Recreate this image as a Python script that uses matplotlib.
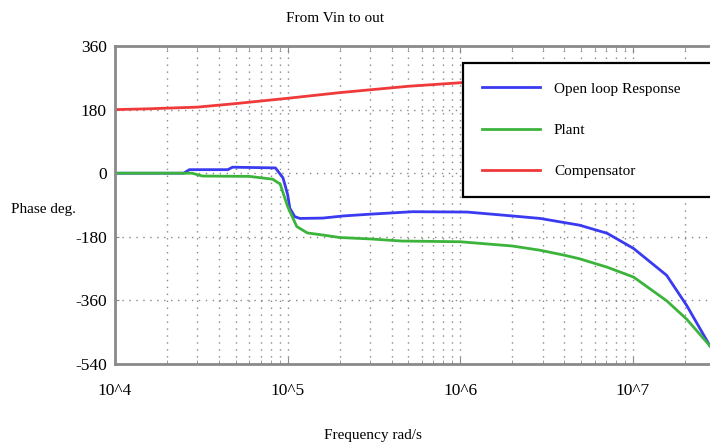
import numpy as np
import matplotlib
matplotlib.use("Agg")
import matplotlib.pyplot as plt
from matplotlib.ticker import FixedLocator, LogLocator, NullFormatter

plt.rcParams['font.family'] = ['Liberation Serif', 'DejaVu Serif']

# (rad/s, degrees)
f_open = [1e4, 2.5e4, 2.7e4, 4.5e4, 4.8e4, 8.5e4, 9.4e4, 1e5, 1.03e5, 1.1e5,
          1.18e5, 1.6e5, 2.1e5, 3e5, 5.3e5, 1.1e6, 1.9e6, 2.9e6, 4.9e6,
          7.1e6, 1.01e7, 1.57e7, 2.05e7, 2.8e7]
ph_open = [0, 0, 10, 10, 17, 15, -13, -60, -99, -123,
           -128, -127, -121, -116, -109, -110, -120, -128, -147,
           -170, -213, -289, -374, -489]

f_plant = [1e4, 2.8e4, 3.2e4, 6e4, 8.2e4, 9.06e4, 1e5, 1.13e5, 1.3e5, 1.6e5,
           2e5, 3e5, 4.6e5, 1e6, 2e6, 2.9e6, 4e6, 4.9e6, 7.1e6, 1.01e7,
           1.57e7, 2.05e7, 2.8e7]
ph_plant = [0, 0, -8, -9, -17, -31, -94, -151, -169, -175,
            -182, -186, -192, -194, -206, -218, -232, -242, -266, -294,
            -361, -413, -489]

f_comp = [1e4, 1.5e4, 3e4, 5e4, 1e5, 2e5, 3e5, 5e5, 1e6, 1.1e6]
ph_comp = [180, 182, 187, 197, 212, 228, 236, 246, 256, 258]

y_ticks = [360, 180, 0, -180, -360, -540]
x_ticks = [1e4, 1e5, 1e6, 1e7]
x_labels = ['10^4', '10^5', '10^6', '10^7']

fig = plt.figure(figsize=(7.1, 4.46), dpi=100)
ax = fig.add_axes([115 / 710, 82 / 446, 1 - 115 / 710, 318 / 446])

ax.semilogx(f_open, ph_open, color='#3a3af0', lw=2.0, label='Open loop Response')
ax.semilogx(f_plant, ph_plant, color='#3cb43c', lw=2.0, label='Plant')
ax.semilogx(f_comp, ph_comp, color='#f03a3a', lw=2.0, label='Compensator')

ax.set_xlim(1e4, 2.8e7)
ax.set_ylim(-540, 360)
ax.yaxis.set_major_locator(FixedLocator(y_ticks))
ax.set_yticklabels([str(v) for v in y_ticks])
ax.xaxis.set_major_locator(FixedLocator(x_ticks))
ax.xaxis.set_minor_locator(LogLocator(base=10, subs=np.arange(2, 10)))
ax.xaxis.set_minor_formatter(NullFormatter())
ax.set_xticklabels(x_labels)

ax.grid(True, which='both', axis='x', color='#888888', ls=(0, (1, 4)), lw=1.0)
ax.grid(True, which='major', axis='y', color='#888888', ls=(0, (1, 4)), lw=1.0)

for side in ['left', 'top', 'bottom']:
    ax.spines[side].set_color('#8a8a8a')
    ax.spines[side].set_linewidth(2)
ax.spines['right'].set_visible(False)

ax.tick_params(axis='both', which='both', direction='in', top=True,
               color='#8a8a8a', labelsize=12.5)
ax.tick_params(axis='x', which='major', length=5, pad=14)
ax.tick_params(axis='x', which='minor', length=3)
ax.tick_params(axis='y', length=3, pad=6)

leg_top = 1 - 17 / 318
leg = ax.legend(loc='upper left', bbox_to_anchor=(348 / 595, leg_top - 0.05, 0.6, 0.05),
                mode='expand', fontsize=11, frameon=True, fancybox=False,
                handlelength=3.8, handletextpad=0.9, labelspacing=1.8,
                borderpad=1.25, borderaxespad=0)
leg.get_frame().set_edgecolor('black')
leg.get_frame().set_linewidth(1.6)
leg.get_frame().set_alpha(1)

fig.text(335 / 710, 1 - 18 / 446, 'From Vin to out', ha='center', va='center', fontsize=11)
fig.text(43 / 710, 1 - 209 / 446, 'Phase deg.', ha='center', va='center', fontsize=11)
fig.text(373 / 710, 1 - 435 / 446, 'Frequency rad/s', ha='center', va='center', fontsize=11)

fig.savefig('out.png', dpi=100)
